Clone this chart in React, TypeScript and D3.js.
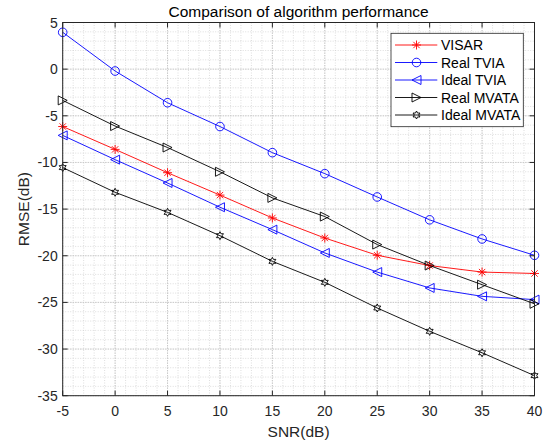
import React from "react";
import * as d3 from "d3";

const snr = [-5, 0, 5, 10, 15, 20, 25, 30, 35, 40];
const visar = [-6.15, -8.6, -11.1, -13.5, -15.95, -18.1, -19.95, -21.05, -21.75, -21.9];
const realTVIA = [3.95, -0.2, -3.6, -6.15, -8.95, -11.2, -13.7, -16.15, -18.2, -19.95];
const idealTVIA = [-7.1, -9.7, -12.2, -14.8, -17.2, -19.7, -21.75, -23.45, -24.35, -24.7];
const realMVATA = [-3.35, -6.1, -8.4, -11.0, -13.8, -15.8, -18.8, -21.05, -23.1, -25.15];
const idealMVATA = [-10.55, -13.2, -15.35, -17.85, -20.6, -22.85, -25.6, -28.1, -30.4, -32.85];

const xTicks = [-5, 0, 5, 10, 15, 20, 25, 30, 35, 40];
const yTicks = [5, 0, -5, -10, -15, -20, -25, -30, -35];
const xTickLabels = ["-5", "0", "5", "10", "15", "20", "25", "30", "35", "40"];
const yTickLabels = ["5", "0", "-5", "-10", "-15", "-20", "-25", "-30", "-35"];

const seriesNames = ["VISAR", "Real TVIA", "Ideal TVIA", "Real MVATA", "Ideal MVATA"];
const seriesData = [visar, realTVIA, idealTVIA, realMVATA, idealMVATA];
const seriesColors = ["#ff0000", "#0000ff", "#0000ff", "#000000", "#000000"];
const seriesMarkers = ["asterisk", "circle", "triLeft", "triRight", "hexagram"];

const title = "Comparison of algorithm performance";
const xLabel = "SNR(dB)";
const yLabel = "RMSE(dB)";

const W = 550, H = 444;
const L = 62.7, R = 534.5, T = 22.5, B = 395.7;
const FONT = "'Liberation Sans', Arial, Helvetica, sans-serif";
const AX = "#262626";

function markerPath(type: string, s: number): string {
  const p = d3.path();
  if (type === "circle") {
    p.moveTo(s, 0);
    p.arc(0, 0, s, 0, Math.PI * 2);
    p.closePath();
  } else if (type === "asterisk") {
    for (let k = 0; k < 4; k++) {
      const a = (k * Math.PI) / 4;
      p.moveTo(-s * Math.cos(a), -s * Math.sin(a));
      p.lineTo(s * Math.cos(a), s * Math.sin(a));
    }
  } else if (type === "triLeft" || type === "triRight") {
    const d = type === "triLeft" ? -1 : 1;
    p.moveTo(d * s, 0);
    p.lineTo(-d * s, -s);
    p.lineTo(-d * s, s);
    p.closePath();
  } else if (type === "hexagram") {
    const ro = s, ri = s * 0.55;
    for (let k = 0; k < 12; k++) {
      const a = -Math.PI / 2 + (k * Math.PI) / 6;
      const r = k % 2 === 0 ? ro : ri;
      const x = r * Math.cos(a), y = r * Math.sin(a);
      if (k === 0) p.moveTo(x, y); else p.lineTo(x, y);
    }
    p.closePath();
  }
  return p.toString();
}

const markerSize: Record<string, number> = {
  asterisk: 4.5,
  circle: 4.3,
  triLeft: 4.5,
  triRight: 4.5,
  hexagram: 4.0,
};

export default function App() {
  const x = d3.scaleLinear().domain([-5, 40]).range([L, R]);
  const y = d3.scaleLinear().domain([-35, 5]).range([B, T]);
  const line = d3.line<number>();

  const minorX = d3.range(-5, 41, 1);
  const minorY = d3.range(-35, 6, 1);

  const legX = 391, legY = 33.3, legW = 132.3, legH = 93.4;
  const rowY = [45, 62.5, 80, 97.5, 115];

  return (
    <svg width={W} height={H} style={{ position: "absolute", left: 0, top: 0, background: "#fff" }} fontFamily={FONT}>
      <rect x={0} y={0} width={W} height={H} fill="#fff" />
      {/* minor grid */}
      <g stroke="#c8c8c8" strokeWidth={0.6} strokeDasharray="1,1.5">
        {minorX.map((v) => (
          <line key={"mx" + v} x1={x(v)} x2={x(v)} y1={T} y2={B} />
        ))}
        {minorY.map((v) => (
          <line key={"my" + v} x1={L} x2={R} y1={y(v)} y2={y(v)} />
        ))}
      </g>
      {/* major grid */}
      <g stroke="#bdbdbd" strokeWidth={0.7} strokeDasharray="1.5,1">
        {xTicks.map((v) => (
          <line key={"gx" + v} x1={x(v)} x2={x(v)} y1={T} y2={B} />
        ))}
        {yTicks.map((v) => (
          <line key={"gy" + v} x1={L} x2={R} y1={y(v)} y2={y(v)} />
        ))}
      </g>
      {/* series */}
      {seriesData.map((data, i) => {
        const pts: [number, number][] = data.map((v, j) => [x(snr[j]), y(v)]);
        return (
          <g key={seriesNames[i]}>
            <path d={line(pts) || ""} fill="none" stroke={seriesColors[i]} strokeWidth={0.9} />
            {pts.map((pt, j) => (
              <path
                key={j}
                d={markerPath(seriesMarkers[i], markerSize[seriesMarkers[i]])}
                transform={`translate(${pt[0]},${pt[1]})`}
                fill="none"
                stroke={seriesColors[i]}
                strokeWidth={0.9}
              />
            ))}
          </g>
        );
      })}
      {/* axes box */}
      <rect x={L} y={T} width={R - L} height={B - T} fill="none" stroke={AX} strokeWidth={1} />
      {/* ticks */}
      <g stroke={AX} strokeWidth={1}>
        {xTicks.map((v) => (
          <g key={"tx" + v}>
            <line x1={x(v)} x2={x(v)} y1={B} y2={B - 5} />
            <line x1={x(v)} x2={x(v)} y1={T} y2={T + 5} />
          </g>
        ))}
        {yTicks.map((v) => (
          <g key={"ty" + v}>
            <line x1={L} x2={L + 5} y1={y(v)} y2={y(v)} />
            <line x1={R} x2={R - 5} y1={y(v)} y2={y(v)} />
          </g>
        ))}
      </g>
      {/* tick labels */}
      <g fill={AX} fontSize={14}>
        {xTicks.map((v, i) => (
          <text key={"lx" + v} x={x(v)} y={B + 20} textAnchor="middle">
            {xTickLabels[i]}
          </text>
        ))}
        {yTicks.map((v, i) => (
          <text key={"ly" + v} x={L - 5} y={y(v) + 5} textAnchor="end">
            {yTickLabels[i]}
          </text>
        ))}
      </g>
      {/* axis labels */}
      <text x={(L + R) / 2} y={437} textAnchor="middle" fontSize={15.5} fill={AX}>
        {xLabel}
      </text>
      <text
        transform={`translate(29,${(T + B) / 2}) rotate(-90)`}
        textAnchor="middle"
        fontSize={15.5}
        fill={AX}
      >
        {yLabel}
      </text>
      <text x={(L + R) / 2} y={17} textAnchor="middle" fontSize={15.5} fill="#000">
        {title}
      </text>
      {/* legend */}
      <rect x={legX} y={legY} width={legW} height={legH} fill="#fff" stroke={AX} strokeWidth={0.8} />
      {seriesNames.map((name, i) => (
        <g key={"leg" + name}>
          <line x1={395} x2={437.3} y1={rowY[i]} y2={rowY[i]} stroke={seriesColors[i]} strokeWidth={0.9} />
          <path
            d={markerPath(seriesMarkers[i], markerSize[seriesMarkers[i]])}
            transform={`translate(416.5,${rowY[i]})`}
            fill="none"
            stroke={seriesColors[i]}
            strokeWidth={0.9}
          />
          <text x={441} y={rowY[i] + 5} fontSize={14} fill="#000">
            {name}
          </text>
        </g>
      ))}
    </svg>
  );
}
